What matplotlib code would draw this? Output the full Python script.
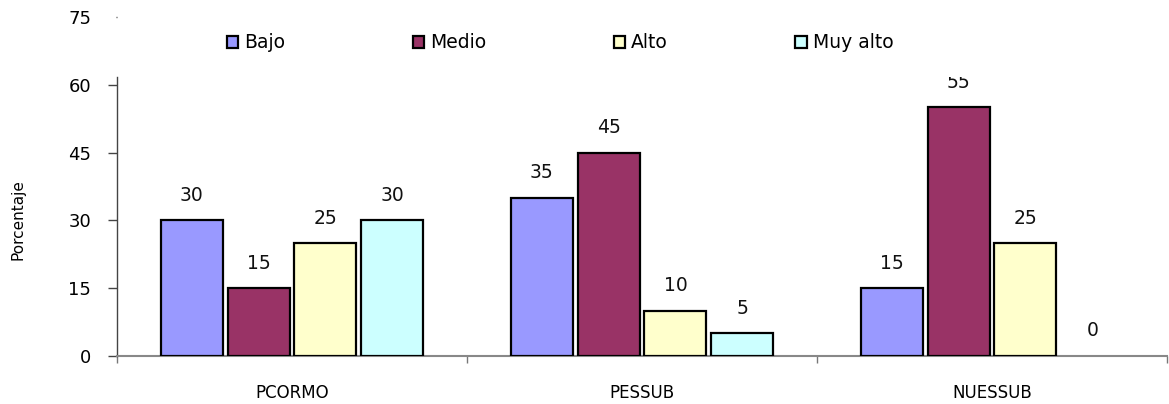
import matplotlib
matplotlib.use("Agg")
import matplotlib.pyplot as plt
import numpy as np
from matplotlib.patches import Rectangle

plt.rcParams['font.family'] = ['DejaVu Sans']

categories = ["PCORMO", "PESSUB", "NUESSUB"]
levels = ["Bajo", "Medio", "Alto", "Muy alto"]
bajo = [30, 35, 15]
medio = [15, 45, 55]
alto = [25, 10, 25]
muy_alto = [30, 5, 0]
series = [bajo, medio, alto, muy_alto]
colors = ["#9999FF", "#993366", "#FFFFCC", "#CCFFFF"]
y_ticks = [0, 15, 30, 45, 60, 75]

W, H = 1169, 404
fig = plt.figure(figsize=(W / 100, H / 100), dpi=100)
ax = fig.add_axes([117 / W, (H - 356) / H, (1167 - 117) / W, (356 - 17) / H])

plot_top = 61.8  # visible height of the plotting area
x = np.arange(len(categories))
bar_w = 0.177
step = 0.191
offsets = (np.arange(len(levels)) - 1.5) * step

clip_rect = Rectangle((-0.5, 0), 3, plot_top, transform=ax.transData,
                      fill=False, visible=False)
ax.add_patch(clip_rect)

for i, (name, vals, col) in enumerate(zip(levels, series, colors)):
    bars = ax.bar(x + offsets[i], vals, bar_w, color=col, edgecolor="black",
                  linewidth=1.6, label=name, zorder=3)
    for b, v in zip(bars, vals):
        if v == 0:
            b.set_linewidth(0)
    for xi, v in zip(x + offsets[i], vals):
        t = ax.annotate(f"{v}", (xi, v), xytext=(0, 18), textcoords="offset points",
                        ha="center", va="center", fontsize=13.5, color="#111111")
        t.set_clip_path(clip_rect)

ax.set_xlim(-0.5, 2.5)
ax.set_ylim(0, 75)
ax.set_yticks(y_ticks)
ax.set_yticklabels([str(v) for v in y_ticks])
ax.set_xticks(x)
ax.set_xticklabels(categories)
ax.set_xticks([-0.5, 0.5, 1.5, 2.5], minor=True)

ax.tick_params(axis="x", which="major", length=0, pad=20, labelsize=12)
ax.tick_params(axis="x", which="minor", length=5, width=1, color="#777777", direction="out")
ax.tick_params(axis="y", length=6.5, width=1, color="#444444", pad=12, labelsize=13)
ax.yaxis.get_major_ticks()[-1].tick1line.set_markersize(1)

for s in ["top", "right"]:
    ax.spines[s].set_visible(False)
ax.spines["left"].set_bounds(0, plot_top)
ax.spines["left"].set_color("#444444")
ax.spines["bottom"].set_color("#888888")
ax.spines["left"].set_linewidth(1)
ax.spines["bottom"].set_linewidth(1.5)

fig.text(18 / W, (H - 220) / H, "Porcentaje", rotation=90, ha="center", va="center",
         fontsize=11)

leg = fig.legend(loc="center", bbox_to_anchor=(560 / W, (H - 43) / H), ncol=4,
                 frameon=False, fontsize=13.5, handlelength=0.6, handleheight=0.6,
                 handletextpad=0.33, columnspacing=6.8)
for h in leg.legend_handles:
    h.set_linewidth(1.6)

fig.savefig("out.png", dpi=100)
